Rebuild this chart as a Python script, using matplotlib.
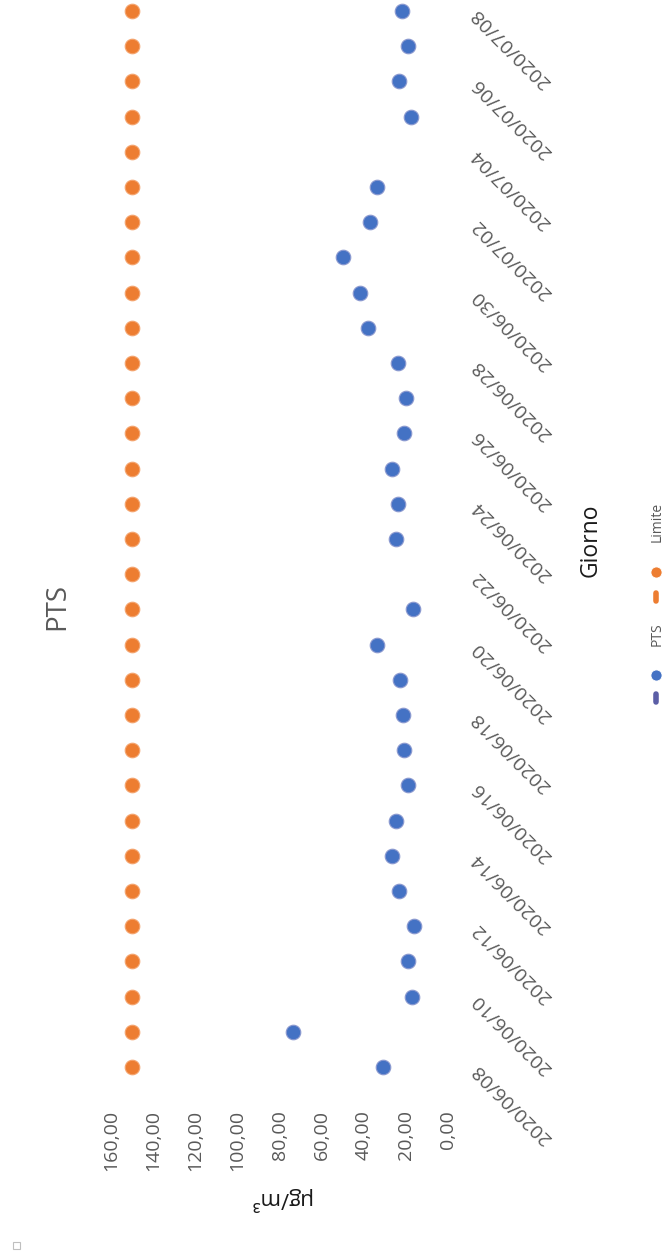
import numpy as np
import pandas as pd
import matplotlib
matplotlib.use("Agg")
import matplotlib.pyplot as plt
import matplotlib.dates as mdates
from matplotlib.lines import Line2D
from matplotlib.patches import Rectangle
from matplotlib.ticker import FuncFormatter, MultipleLocator

plt.rcParams["font.family"] = ["Open Sans", "DejaVu Sans"]

# one value per day, 2020/06/08 .. 2020/07/08 (NaN = no measurement)
days = pd.date_range("2020-06-08", "2020-07-08", freq="D")
pts = [31.0, 73.5, 17.1, 19.0, 16.1, 23.3, 26.6, 24.7, 19.0, 20.9,
       21.4, 22.8, 33.7, 16.6, np.nan, 24.7, 23.7, 26.6, 20.9, 19.9,
       23.7, 38.0, 41.8, 49.9, 37.0, 33.7, np.nan, 17.6, 23.3, 19.0,
       21.8]
limite = [150.0] * len(days)
series_names = ["PTS", "Limite"]
colors = ["#4472C4", "#ED7D31"]
line_colors = ["#5B5EA6", "#ED7D31"]

W, H = 667, 1258


def fx(px):
    return px / W


def fy(py):
    return 1 - py / H


fig = plt.figure(figsize=(W / 100, H / 100), dpi=100)
ax = fig.add_axes([fx(111), fy(1081), (448 - 111) / W, 1081 / H])

# chart is drawn turned a quarter turn: values run right->left, days bottom->up
ax.plot(limite, days, linestyle="none", marker="o", markersize=10.5,
        color=colors[1], markeredgecolor="#F4A46E", markeredgewidth=0.8)
ax.plot(pts, days, linestyle="none", marker="o", markersize=10.5,
        color=colors[0], markeredgecolor="#8C9AD0", markeredgewidth=0.8)

d0 = mdates.date2num(days[0])
d1 = mdates.date2num(days[-1])
ax.set_xlim(160, 0)
ax.set_ylim(d0 - 0.4, d1 + 0.31)

for s in ax.spines.values():
    s.set_visible(False)

ax.xaxis.set_major_locator(MultipleLocator(20))
ax.xaxis.set_major_formatter(FuncFormatter(lambda v, p: f"{v:.2f}".replace(".", ",")))
ax.tick_params(axis="x", length=0, pad=21, labelsize=14, labelcolor="#595959",
               labelrotation=90)
ax.set_xticks([160, 0], minor=True)
ax.tick_params(axis="x", which="minor", length=7, direction="inout", color="#D0D0D0")

ax.yaxis.tick_right()
ax.set_yticks(days[::2])
ax.yaxis.set_major_formatter(mdates.DateFormatter("%Y/%m/%d"))
ax.tick_params(axis="y", length=0, pad=19, labelsize=14, labelcolor="#595959")
for lab in ax.get_yticklabels():
    lab.set_rotation(135)
    lab.set_rotation_mode("anchor")
    lab.set_ha("right")
    lab.set_va("center")

# titles
fig.text(fx(57), fy(606), "PTS", rotation=90, ha="center", va="center",
         fontsize=20, color="#595959")
fig.text(fx(591), fy(540), "Giorno", rotation=90, ha="center", va="center",
         fontsize=16.5, color="#1a1a1a")
fig.text(fx(280), fy(1199), "µg/m³", rotation=180, ha="center", va="center",
         fontsize=16, color="#1a1a1a")

# legend, stacked vertically because of the rotation
legend_y = [(634, 675, 698), (522, 572, 597)]
for name, c, lc, (ty, my, ly) in zip(series_names, colors, line_colors, legend_y):
    fig.text(fx(657), fy(ty), name, rotation=90, ha="center", va="center",
             fontsize=10, color="#595959")
    fig.add_artist(Line2D([fx(656)], [fy(my)], marker="o", markersize=8,
                          color=c, markeredgecolor="white", markeredgewidth=0.6,
                          transform=fig.transFigure))
    fig.add_artist(Line2D([fx(656), fx(656)], [fy(ly - 4), fy(ly + 4)],
                          color=lc, linewidth=4, solid_capstyle="round",
                          transform=fig.transFigure))

# little box in the corner
fig.add_artist(Rectangle((fx(13), fy(1249)), 7 / W, 7 / H, fill=False,
                         edgecolor="#BFBFBF", linewidth=0.8,
                         transform=fig.transFigure))

fig.savefig("out.png", dpi=100)
